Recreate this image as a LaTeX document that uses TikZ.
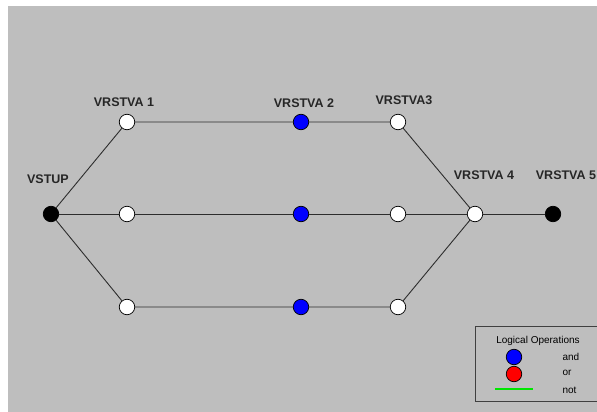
\documentclass[tikz,border=0pt]{standalone}
\usepackage{fontspec}
\setmainfont{Liberation Sans}
\definecolor{panel}{RGB}{190,190,190}
\definecolor{wiregray}{RGB}{45,45,45}
\definecolor{andblue}{RGB}{0,0,255}
\definecolor{orred}{RGB}{255,0,0}
\definecolor{notgreen}{RGB}{0,230,0}
\tikzset{
    gate/.style={circle, draw=black, line width=0.7pt, inner sep=0pt, minimum size=15.5pt},
    pass/.style={gate, fill=white},
    andgate/.style={gate, fill=andblue},
    orgate/.style={gate, fill=orred},
    term/.style={gate, fill=black},
    layer/.style={font=\fontsize{12.5}{13}\selectfont\bfseries, text=black!85},
    link/.style={draw=wiregray, line width=0.9pt},
    legendtxt/.style={font=\fontsize{10}{11}\selectfont, anchor=west}
}
\begin{document}
\begin{tikzpicture}[x=1pt, y=-1pt]
    \useasboundingbox (0,0) rectangle (597,412);
    \fill[white] (0,0) rectangle (597,412);
    \fill[panel] (8,6) rectangle (597,412);

    % input and output
    \node[term] (in) at (51,214) {};
    \node[term] (out) at (553,214) {};
    \node[pass] (l4) at (475,214) {};

    % three parallel paths
    \foreach \r/\y in {a/122, b/214, c/307} {
        \node[pass] (l1\r) at (127,\y) {};
        \node[andgate] (l2\r) at (301,\y) {};
        \node[pass] (l3\r) at (398,\y) {};
        \draw[link] (in) -- (l1\r) -- (l2\r) -- (l3\r) -- (l4);
    }
    \draw[link] (l4) -- (out);

    \node[layer] at (48,179) {VSTUP};
    \node[layer] at (124,102) {VRSTVA 1};
    \node[layer] at (304,103) {VRSTVA 2};
    \node[layer] at (404,100) {VRSTVA3};
    \node[layer] at (484,175) {VRSTVA 4};
    \node[layer] at (566,175) {VRSTVA 5};

    % legend
    \draw[black!75, line width=0.8pt] (475,326) rectangle (610,401);
    \node[font=\fontsize{10}{11}\selectfont] (lgtitle) at (538,341) {Logical Operations};
    \node[andgate] (lgand) at (514,357) {};
    \node[orgate] (lgor) at (514,374) {};
    \draw[draw=notgreen, line width=1.4pt] (495,389) -- (533,389);
    \node[legendtxt] at (559,357) {and};
    \node[legendtxt] at (559,373) {or};
    \node[legendtxt] at (559,390) {not};
\end{tikzpicture}
\end{document}
